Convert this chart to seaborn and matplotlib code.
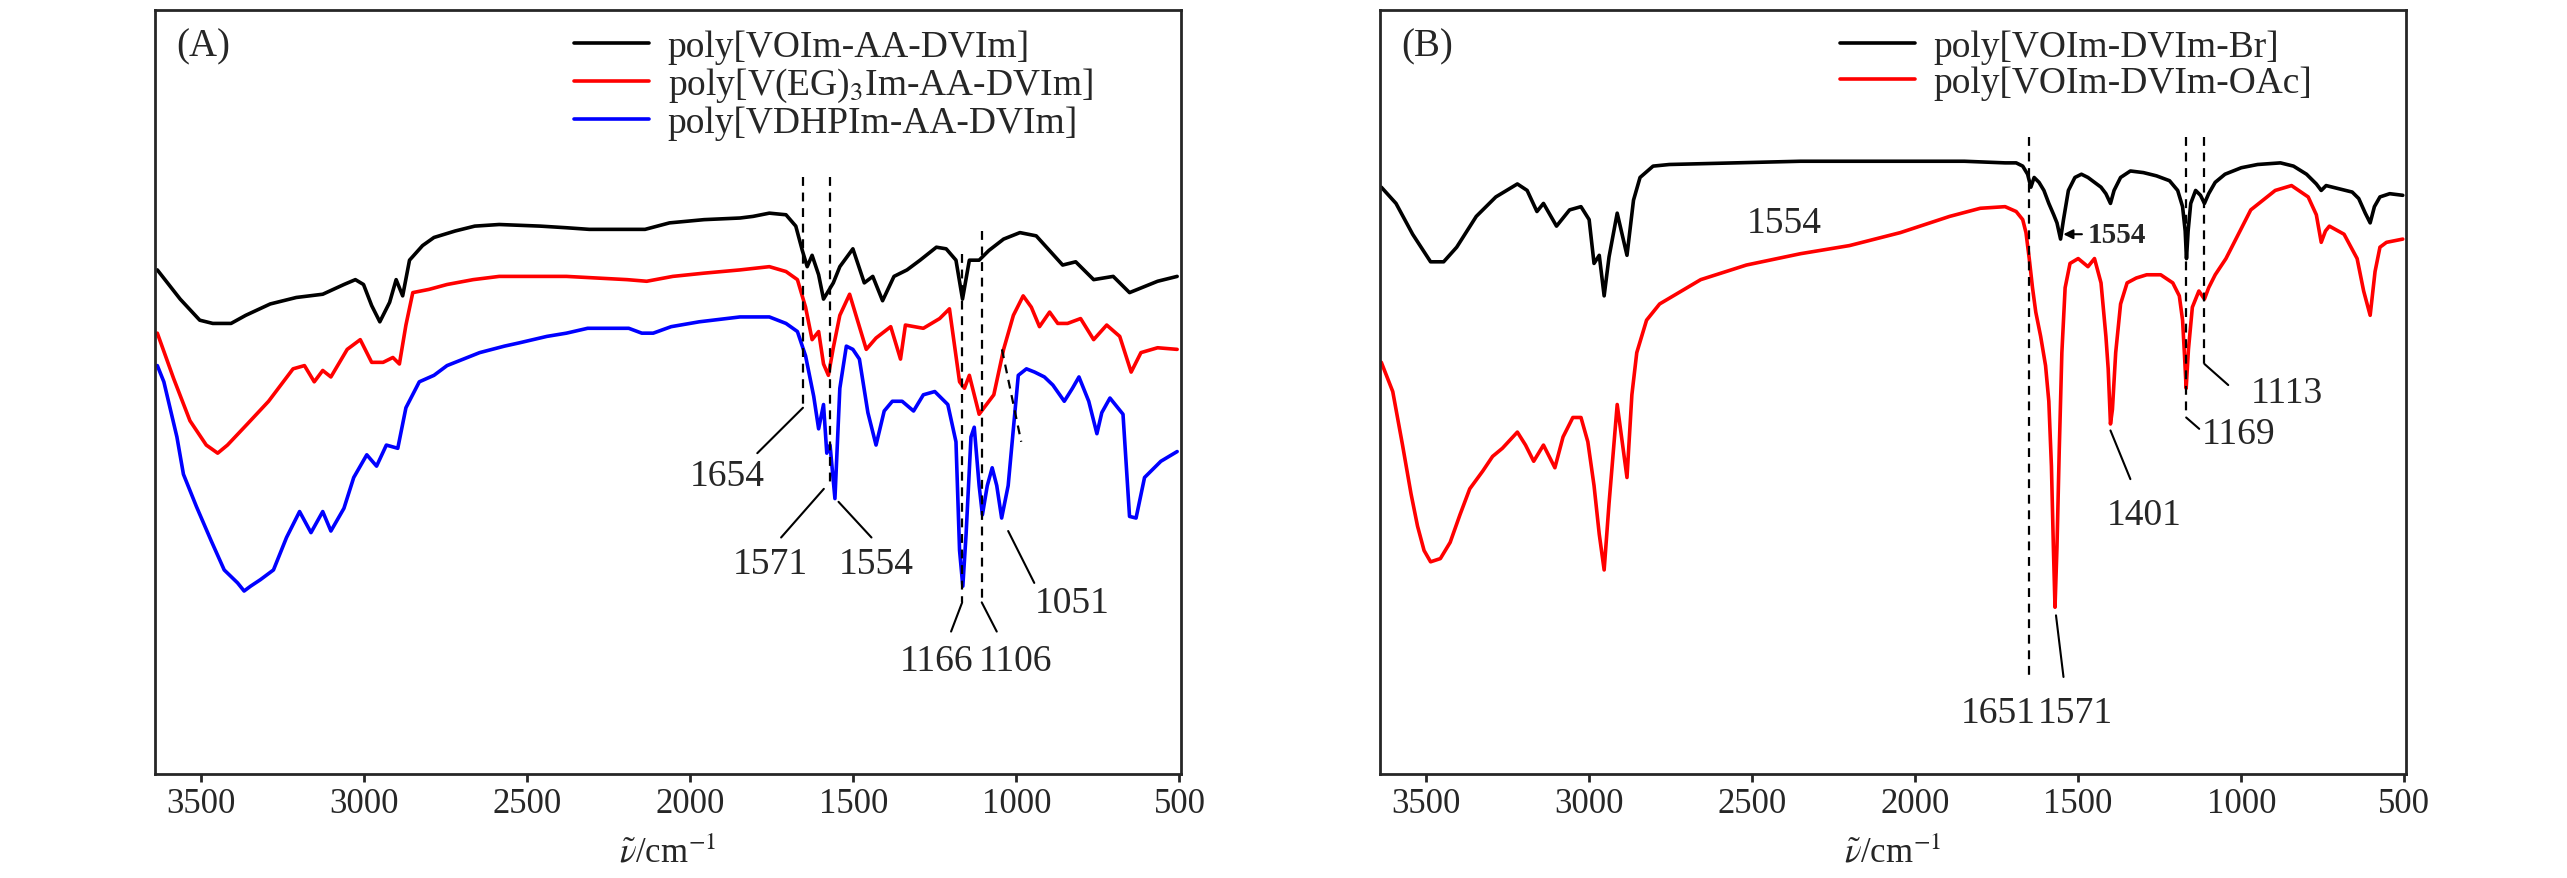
import matplotlib
matplotlib.use("Agg")
import matplotlib.pyplot as plt
import seaborn as sns

# ---------------- data (wavenumber / cm-1, transmittance a.u.) ----------------
a_names = ["poly[VOIm-AA-DVIm]", r"poly[V(EG)$_3$Im-AA-DVIm]", "poly[VDHPIm-AA-DVIm]"]
b_names = ["poly[VOIm-DVIm-Br]", "poly[VOIm-DVIm-OAc]"]

a_black_wn = [3633, 3563, 3503, 3463, 3407, 3362, 3287, 3207, 3126, 3061, 3026, 3001, 2976, 2951, 2921,
              2901, 2881, 2860, 2820, 2785, 2720, 2660, 2585, 2459, 2379, 2309, 2258, 2138, 2063, 1957,
              1847, 1807, 1757, 1706, 1676, 1656, 1641, 1626, 1606, 1591, 1576, 1561, 1541, 1501, 1466,
              1440, 1410, 1375, 1335, 1295, 1245, 1215, 1185, 1165, 1144, 1114, 1084, 1039, 989, 939,
              858, 818, 763, 703, 653, 567, 507]
a_black_t = [311, 293, 280, 278, 278, 283, 290, 294, 296, 302, 305, 302, 289, 279, 291,
             305, 295, 317, 326, 331, 335, 338, 339, 338, 337, 336, 336, 336, 340, 342,
             343, 344, 346, 345, 338, 323, 313, 320, 308, 293, 298, 303, 313, 324, 303,
             307, 292, 307, 311, 317, 325, 324, 317, 293, 317, 317, 323, 330, 334, 332,
             314, 316, 305, 307, 297, 304, 307]

a_red_wn = [3633, 3583, 3533, 3483, 3448, 3418, 3357, 3292, 3217, 3182, 3152, 3126, 3101, 3051, 3011,
            2976, 2941, 2911, 2891, 2871, 2850, 2800, 2745, 2665, 2585, 2379, 2193, 2133, 2053, 1957,
            1847, 1757, 1706, 1671, 1646, 1626, 1606, 1591, 1576, 1561, 1541, 1511, 1460, 1430, 1385,
            1355, 1340, 1285, 1235, 1205, 1174, 1159, 1144, 1114, 1069, 1039, 1009, 979, 954, 929,
            898, 873, 843, 803, 763, 723, 683, 648, 618, 567, 507]
a_red_t = [272, 244, 218, 203, 198, 203, 216, 230, 250, 252, 242, 249, 245, 262, 268,
           254, 254, 257, 253, 277, 297, 299, 302, 305, 307, 307, 305, 304, 307, 309,
           311, 313, 310, 305, 288, 268, 273, 253, 246, 263, 283, 296, 262, 269, 276,
           256, 277, 275, 281, 287, 242, 238, 246, 222, 234, 262, 283, 295, 288, 276,
           285, 278, 278, 281, 268, 277, 270, 248, 260, 263, 262]

a_blue_wn = [3633, 3613, 3573, 3553, 3513, 3468, 3428, 3387, 3367, 3347, 3317, 3277, 3237, 3197, 3162,
             3126, 3101, 3061, 3031, 2991, 2961, 2931, 2896, 2871, 2830, 2785, 2745, 2695, 2645, 2569,
             2524, 2439, 2379, 2314, 2238, 2188, 2148, 2113, 2058, 1972, 1847, 1757, 1706, 1671, 1646,
             1621, 1606, 1591, 1581, 1571, 1556, 1541, 1521, 1501, 1481, 1455, 1430, 1405, 1380, 1350,
             1315, 1285, 1250, 1210, 1185, 1174, 1164, 1154, 1139, 1129, 1114, 1104, 1089, 1074, 1060,
             1045, 1025, 994, 969, 944, 914, 888, 853, 828, 808, 778, 753, 738, 713, 673,
             653, 633, 607, 557, 507]
a_blue_t = [252, 242, 208, 185, 165, 144, 126, 118, 113, 116, 120, 126, 146, 162, 149,
            162, 150, 164, 183, 197, 190, 203, 201, 226, 242, 246, 252, 256, 260, 264,
            266, 270, 272, 275, 275, 275, 272, 272, 276, 279, 282, 282, 278, 273, 258,
            233, 213, 228, 198, 203, 170, 238, 264, 262, 256, 223, 203, 224, 230, 230,
            224, 234, 236, 228, 205, 138, 116, 148, 208, 214, 178, 160, 178, 189, 178,
            158, 178, 246, 250, 248, 245, 240, 230, 238, 245, 230, 210, 223, 232, 222,
            159, 158, 183, 193, 199]

b_black_wn = [3636, 3591, 3540, 3485, 3445, 3405, 3345, 3285, 3219, 3189, 3159, 3139, 3099, 3059, 3024,
              2999, 2984, 2968, 2953, 2938, 2913, 2883, 2863, 2843, 2803, 2753, 2552, 2351, 2100, 1849,
              1724, 1690, 1670, 1655, 1645, 1635, 1620, 1605, 1590, 1575, 1565, 1554, 1545, 1530, 1510,
              1490, 1470, 1450, 1430, 1415, 1401, 1390, 1370, 1340, 1300, 1260, 1220, 1195, 1180, 1172,
              1168, 1163, 1155, 1140, 1125, 1113, 1100, 1080, 1050, 1000, 950, 880, 840, 800, 770,
              755, 740, 700, 660, 640, 620, 605, 592, 575, 545, 505]
b_black_t = [362, 352, 333, 316, 316, 325, 344, 356, 364, 360, 347, 352, 338, 348, 350,
             342, 315, 320, 295, 319, 346, 320, 354, 368, 375, 376, 377, 378, 378, 378,
             377, 377, 375, 370, 362, 368, 365, 360, 352, 345, 340, 330, 342, 360, 368,
             370, 368, 365, 362, 358, 352, 360, 368, 372, 371, 369, 366, 360, 350, 335,
             318, 335, 352, 360, 357, 352, 358, 365, 370, 374, 376, 377, 375, 370, 364,
             360, 363, 361, 359, 355, 346, 340, 350, 356, 358, 357]

b_red_wn = [3636, 3601, 3571, 3545, 3525, 3505, 3485, 3455, 3425, 3395, 3365, 3325, 3295, 3265, 3219,
            3194, 3169, 3139, 3104, 3079, 3049, 3024, 3003, 2984, 2968, 2953, 2938, 2913, 2883, 2868,
            2853, 2823, 2783, 2657, 2517, 2351, 2201, 2045, 1894, 1800, 1724, 1690, 1670, 1660, 1650,
            1640, 1630, 1615, 1600, 1590, 1582, 1576, 1571, 1565, 1558, 1550, 1540, 1525, 1500, 1470,
            1450, 1430, 1415, 1408, 1401, 1395, 1385, 1370, 1350, 1322, 1290, 1247, 1210, 1190, 1180,
            1174, 1169, 1162, 1150, 1130, 1113, 1100, 1080, 1047, 971, 896, 846, 795, 770, 755,
            742, 730, 685, 645, 625, 605, 590, 575, 555, 505]
b_red_t = [254, 236, 203, 173, 153, 138, 131, 133, 143, 160, 176, 187, 196, 201, 211,
           203, 193, 203, 189, 208, 220, 220, 205, 178, 148, 126, 167, 228, 183, 234,
           260, 280, 290, 305, 314, 321, 326, 334, 344, 349, 350, 347, 342, 334, 318,
           300, 285, 270, 252, 230, 190, 140, 103, 140, 200, 260, 300, 315, 318, 313,
           318, 303, 270, 250, 216, 225, 260, 290, 303, 306, 308, 308, 303, 295, 280,
           258, 238, 262, 288, 298, 293, 300, 308, 318, 348, 360, 363, 356, 345, 328,
           335, 338, 333, 318, 298, 283, 310, 325, 328, 330]

# peak marks
a_peaks = ["1654", "1571", "1554", "1166", "1106", "1051"]
b_peaks = ["1651", "1571", "1401", "1169", "1113"]

# ---------------- style ----------------
sns.set_style("ticks")
plt.rcParams["font.family"] = ["Liberation Serif", "DejaVu Serif"]
plt.rcParams["mathtext.fontset"] = "stix"

FS = 27
fig = plt.figure(figsize=(25.67, 8.79), dpi=100)
axA = fig.add_axes([0.0604, 0.118, 0.3997, 0.869])
axB = fig.add_axes([0.5376, 0.118, 0.3997, 0.869])

curvesA = [(a_black_wn, a_black_t, "black"), (a_red_wn, a_red_t, "red"), (a_blue_wn, a_blue_t, "blue")]
curvesB = [(b_black_wn, b_black_t, "black"), (b_red_wn, b_red_t, "red")]

for ax, curves, names in [(axA, curvesA, a_names), (axB, curvesB, b_names)]:
    for (wn, t, c), name in zip(curves, names):
        sns.lineplot(x=wn, y=t, color=c, lw=2.6, label=name, ax=ax, estimator=None, sort=False)
    ax.set_xlim(3640, 495)
    ax.set_ylim(0, 471)
    ax.set_yticks([])
    ax.set_ylabel("")
    ax.set_xticks([3500, 3000, 2500, 2000, 1500, 1000, 500])
    ax.tick_params(axis="x", labelsize=FS - 2, width=2, length=6, direction="out")
    for s in ax.spines.values():
        s.set_linewidth(2)
        s.set_visible(True)
    ax.set_xlabel(r"$\tilde{\nu}$/cm$^{-1}$", fontsize=FS - 2, labelpad=11)

axA.legend(loc="upper left", bbox_to_anchor=(0.39, 1.0), frameon=False, fontsize=FS,
           handlelength=2.0, handletextpad=0.5, labelspacing=0.05, borderaxespad=0.1)
axB.legend(loc="upper left", bbox_to_anchor=(0.43, 1.0), frameon=False, fontsize=FS,
           handlelength=2.0, handletextpad=0.5, labelspacing=0.05, borderaxespad=0.1)
axA.text(0.021, 0.978, "(A)", transform=axA.transAxes, fontsize=FS + 1, ha="left", va="top")
axB.text(0.021, 0.978, "(B)", transform=axB.transAxes, fontsize=FS + 1, ha="left", va="top")

dash = dict(color="black", lw=1.6, ls=(0, (4, 3)))
lead = dict(color="black", lw=1.5)

# panel A marks
wA = [float(p) for p in a_peaks]
axA.plot([wA[0], wA[0]], [368, 226], **dash)
axA.plot([wA[1], wA[1]], [368, 178], **dash)
axA.plot([wA[3], wA[3]], [321, 106], **dash)
axA.plot([wA[4], wA[4]], [335, 106], **dash)
axA.plot([wA[5] - 7, wA[5] - 66], [262, 205], **dash)
axA.plot([wA[0], wA[0] + 140], [226, 198], **lead)
axA.plot([wA[1] + 19, wA[1] + 150], [176, 146], **lead)
axA.plot([wA[2] - 9, wA[2] - 110], [168, 146], **lead)
axA.plot([wA[3], wA[3] + 34], [106, 88], **lead)
axA.plot([wA[4], wA[4] - 46], [106, 88], **lead)
axA.plot([wA[5] - 26, wA[5] - 106], [150, 118], **lead)
for lab, x, y in zip(a_peaks, [1885, 1755, 1430, 1245, 1004, 828], [184, 130, 130, 70, 70, 106]):
    axA.text(x, y, lab, fontsize=FS, ha="center", va="center")

# panel B marks
wB = [float(p) for p in b_peaks]
axB.plot([wB[0], wB[0]], [393, 58], **dash)
axB.plot([wB[3], wB[3]], [393, 220], **dash)
axB.plot([wB[4], wB[4]], [393, 253], **dash)
axB.plot([wB[1] - 3, wB[1] - 26], [98, 60], **lead)
axB.plot([wB[2], wB[2] - 61], [212, 182], **lead)
axB.plot([wB[3], wB[3] - 40], [220, 213], **lead)
axB.plot([wB[4], wB[4] - 73], [253, 240], **lead)
for lab, x, y in zip(b_peaks, [1745, 1508, 1297, 1007, 860], [38, 38, 160, 210, 235]):
    axB.text(x, y, lab, fontsize=FS, ha="center", va="center")
axB.text(2400, 340, "1554", fontsize=FS, ha="center", va="center")
axB.annotate("1554", xy=(1554, 333), xytext=(1470, 333), fontsize=FS - 6, fontweight="bold",
             ha="left", va="center",
             arrowprops=dict(arrowstyle="-|>", color="black", lw=1.5, mutation_scale=14))

fig.savefig("out.png", dpi=100)
